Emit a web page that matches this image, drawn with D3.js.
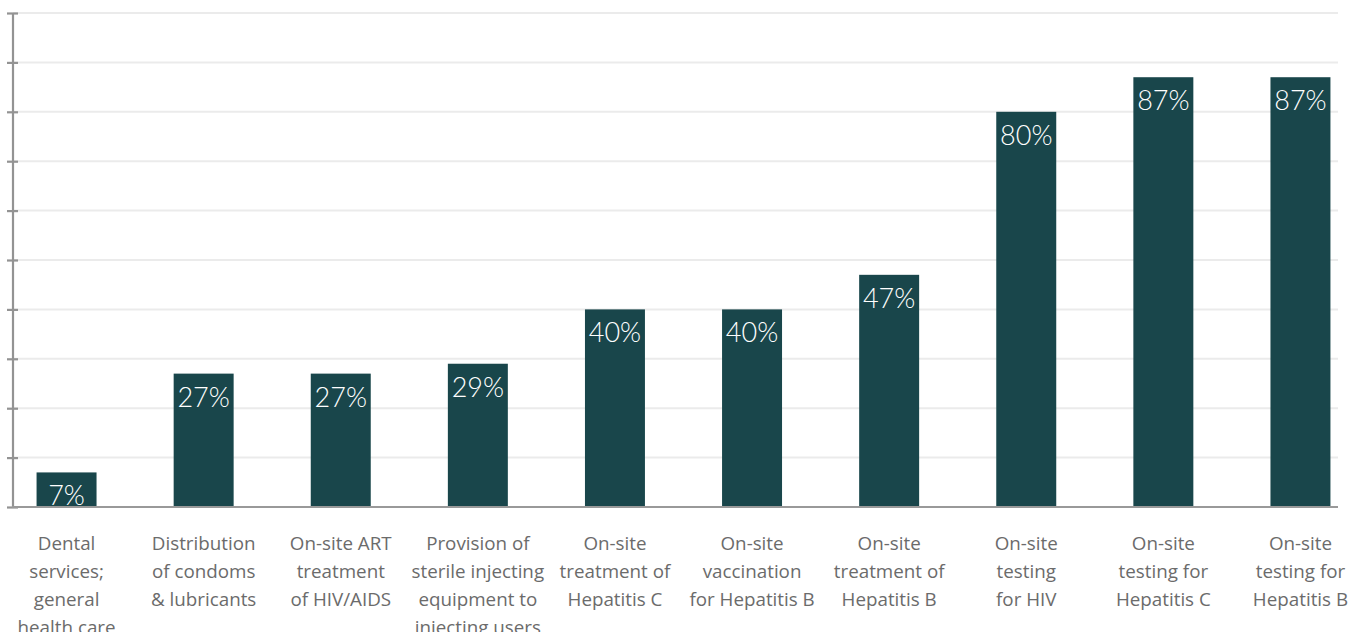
<!DOCTYPE html>
<html>
<head>
<meta charset="utf-8">
<script src="https://cdn.jsdelivr.net/npm/d3@7/dist/d3.min.js"></script>
<style>
  html, body { margin: 0; padding: 0; background: #fff; }
  svg { display: block; }
</style>
</head>
<body>
<svg id="chart" width="1351" height="632"></svg>
<script>
const categories = [
  "Dental services; general health care",
  "Distribution of condoms & lubricants",
  "On-site ART treatment of HIV/AIDS",
  "Provision of sterile injecting equipment to injecting users",
  "On-site treatment of Hepatitis C",
  "On-site vaccination for Hepatitis B",
  "On-site treatment of Hepatitis B",
  "On-site testing for HIV",
  "On-site testing for Hepatitis C",
  "On-site testing for Hepatitis B"
];
const categoryLines = [
  ["Dental", "services;", "general", "health care"],
  ["Distribution", "of condoms", "& lubricants"],
  ["On-site ART", "treatment", "of HIV/AIDS"],
  ["Provision of", "sterile injecting", "equipment to", "injecting users"],
  ["On-site", "treatment of", "Hepatitis C"],
  ["On-site", "vaccination", "for Hepatitis B"],
  ["On-site", "treatment of", "Hepatitis B"],
  ["On-site", "testing", "for HIV"],
  ["On-site", "testing for", "Hepatitis C"],
  ["On-site", "testing for", "Hepatitis B"]
];
const values = [7, 27, 27, 29, 40, 40, 47, 80, 87, 87];
const yTicks = [0, 10, 20, 30, 40, 50, 60, 70, 80, 90, 100];

const svg = d3.select("#chart");
const axisX = 13, plotRight = 1338;
const yBase = 507, yTop = 13;

const x = d3.scaleBand()
  .domain(categories)
  .range([-2, 1369])
  .paddingInner(0.5625)
  .paddingOuter(0.28125);

const y = d3.scaleLinear().domain([0, 100]).range([yBase, yTop]);

// gridlines
svg.append("g")
  .selectAll("line")
  .data(yTicks.filter(d => d > 0))
  .join("line")
  .attr("x1", axisX).attr("x2", plotRight)
  .attr("y1", d => y(d)).attr("y2", d => y(d))
  .attr("stroke", "#ebebeb")
  .attr("stroke-width", 2);

// left axis
const yAxis = d3.axisLeft(y).tickValues(yTicks).tickSize(6).tickFormat("");
const ga = svg.append("g").attr("transform", `translate(${axisX},0)`).call(yAxis);
ga.select(".domain").attr("stroke", "#939393").attr("stroke-width", 2.2)
  .attr("d", `M0,${y(100)}V${yBase}`);
ga.selectAll(".tick line").attr("stroke", "#939393").attr("stroke-width", 2.2)
  .attr("x1", -6).attr("x2", 5);

// bars
svg.append("g")
  .selectAll("rect")
  .data(values)
  .join("rect")
  .attr("x", (d, i) => x(categories[i]))
  .attr("width", x.bandwidth())
  .attr("y", d => y(d))
  .attr("height", d => yBase - y(d))
  .attr("fill", "#19464b");

// baseline
svg.append("line")
  .attr("x1", axisX - 1).attr("x2", plotRight)
  .attr("y1", yBase).attr("y2", yBase)
  .attr("stroke", "#999999")
  .attr("stroke-width", 2.2);

// value labels
svg.append("g")
  .selectAll("text")
  .data(values)
  .join("text")
  .attr("x", (d, i) => x(categories[i]) + x.bandwidth() / 2)
  .attr("y", d => y(d) + 33)
  .attr("text-anchor", "middle")
  .attr("fill", "#ffffff")
  .attr("font-family", "Lato, 'Open Sans', sans-serif")
  .attr("font-weight", 300)
  .attr("font-size", 27)
  .text(d => d + "%");

// category labels
const lab = svg.append("g")
  .selectAll("text")
  .data(categories)
  .join("text")
  .attr("text-anchor", "middle")
  .attr("fill", "#6b6b6b")
  .attr("font-family", "'Open Sans', 'Noto Sans', sans-serif")
  .attr("font-size", 18.8)
  .attr("transform", d => `translate(${x(d) + x.bandwidth() / 2},550)`);
lab.selectAll("tspan")
  .data((d, i) => categoryLines[i])
  .join("tspan")
  .attr("x", 0)
  .attr("y", (d, j) => j * 28)
  .text(d => d);
</script>
</body>
</html>
